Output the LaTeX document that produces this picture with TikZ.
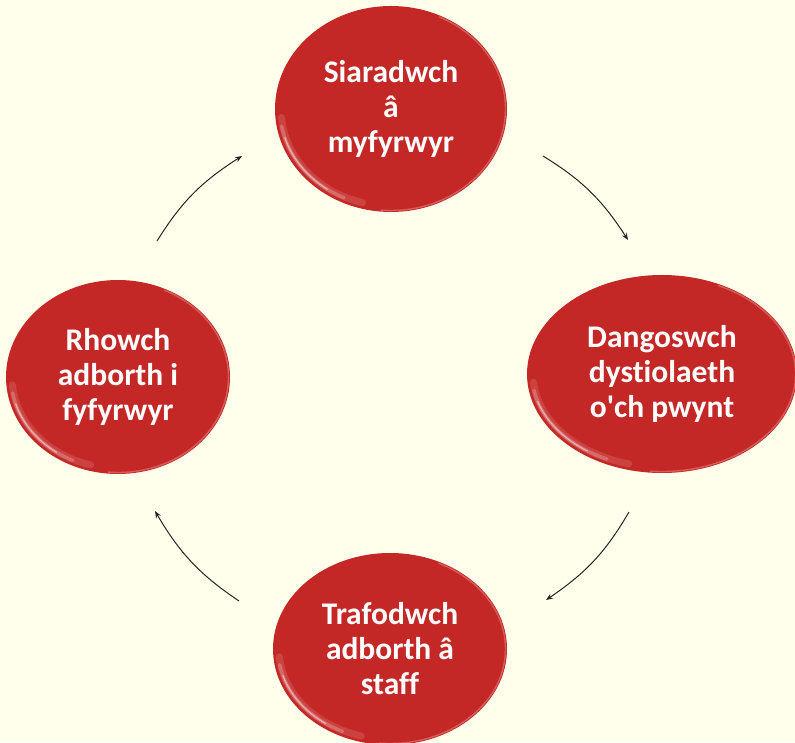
\documentclass[tikz,border=0pt]{standalone}
\usepackage{fontspec}
\setmainfont{Carlito}[Ligatures={NoCommon}]
\usetikzlibrary{shapes.geometric,arrows.meta,bending}
\definecolor{bg}{RGB}{255,255,236}
\definecolor{bubred}{RGB}{196,40,38}
\tikzset{
  bubble/.style={ellipse, fill=bubred, inner sep=0pt, text=white,
    font=\bfseries\fontsize{31.5}{35}\selectfont, align=center},
  cyc/.style={-{Stealth[length=7pt,width=5.5pt]}, line width=1pt, black!85, bend left=13},
  rimstyle/.style={bubred!45!white, opacity=0.45, line width=1.4pt, line cap=round},
}
% #1 cx, #2 cy, #3 rx, #4 ry
\newcommand\bubglare[4]{%
  \draw[rimstyle] (#1,#2) ++(-95:{#3-1.5} and {#4-1.5})
    arc[start angle=-95, end angle=65, x radius={#3-1.5}, y radius={#4-1.5}];
  \draw[white, opacity=0.12, line width=7pt, line cap=round] (#1,#2) ++(185:{#3-6} and {#4-6})
    arc[start angle=185, end angle=255, x radius={#3-6}, y radius={#4-6}];
  \draw[white, opacity=0.22, line width=3.5pt, line cap=round] (#1,#2) ++(190:{#3-5} and {#4-5})
    arc[start angle=190, end angle=245, x radius={#3-5}, y radius={#4-5}];
  \draw[white, opacity=0.45, line width=1.3pt, line cap=round] (#1,#2) ++(197:{#3-5} and {#4-5})
    arc[start angle=197, end angle=235, x radius={#3-5}, y radius={#4-5}];
}
\begin{document}
\begin{tikzpicture}[x=1pt,y=1pt]
  \fill[bg] (0,0) rectangle (795,742);
  \useasboundingbox (0,0) rectangle (795,742);

  \node[bubble, minimum width=232pt, minimum height=206pt] (top) at (391,633) {Siaradwch\\â\\myfyrwyr};
  \bubglare{391}{633}{116}{103}
  \node[bubble, minimum width=270pt, minimum height=198pt] (right) at (662,368) {Dangoswch\\dystiolaeth\\o\textquotesingle ch pwynt};
  \bubglare{662}{368}{135}{99}
  \node[bubble, minimum width=224pt, minimum height=194pt] (left) at (118,365) {Rhowch\\adborth i\\fyfyrwyr};
  \bubglare{118}{365}{112}{97}
  \node[bubble, minimum width=234pt, minimum height=192pt] (bottom) at (390,93) {Trafodwch\\adborth â\\staff};
  \bubglare{390}{93}{117}{96}

  \coordinate (tr1) at (543,586);
  \coordinate (tr2) at (628,502);
  \coordinate (br1) at (629,230);
  \coordinate (br2) at (546,142);
  \coordinate (bl1) at (239,141);
  \coordinate (bl2) at (155,231);
  \coordinate (tl1) at (157,501);
  \coordinate (tl2) at (242,586);

  \draw[cyc] (tr1) to (tr2);
  \draw[cyc] (br1) to (br2);
  \draw[cyc] (bl1) to (bl2);
  \draw[cyc] (tl1) to (tl2);
\end{tikzpicture}
\end{document}
